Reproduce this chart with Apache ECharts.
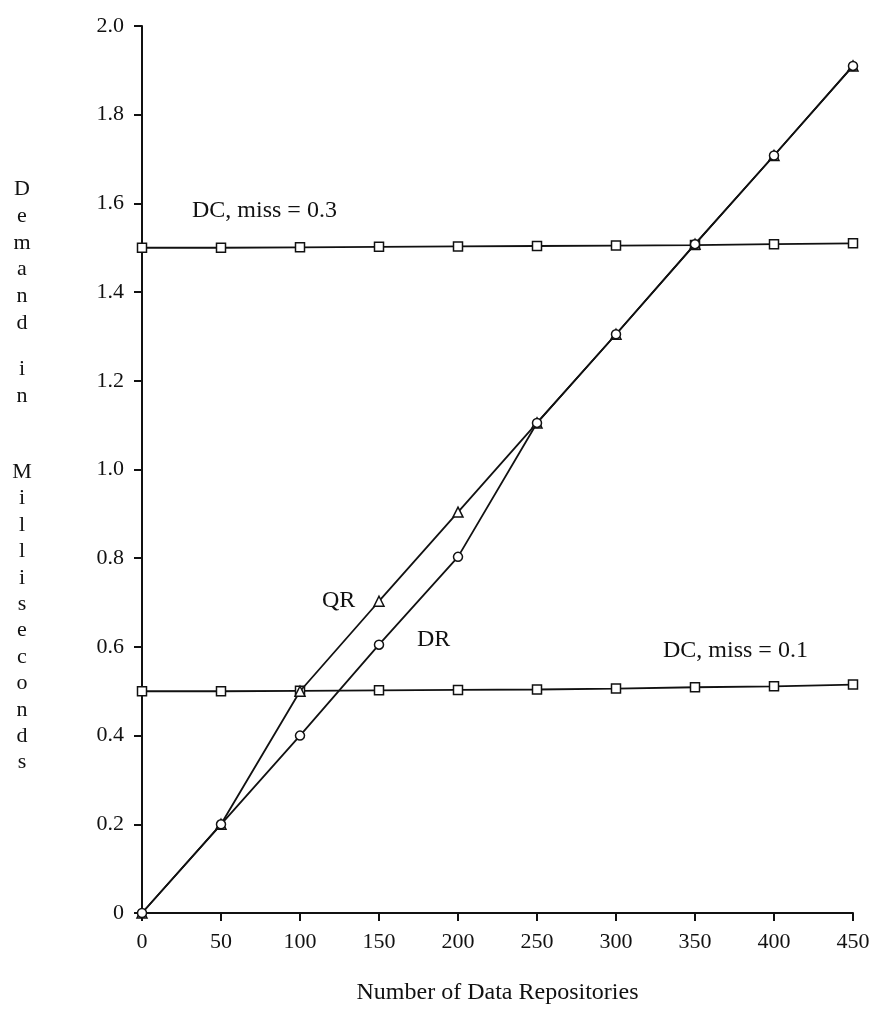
<!DOCTYPE html>
<html>
<head>
<meta charset="utf-8">
<script src="https://cdn.jsdelivr.net/npm/echarts@6/dist/echarts.min.js"></script>
<style>
html,body{margin:0;padding:0;background:#fff;}
#c{width:876px;height:1010px;}
</style>
</head>
<body>
<div id="c"></div>
<script>
const xValues = [0, 50, 100, 150, 200, 250, 300, 350, 400, 450];
const dcMiss03 = [1.500, 1.500, 1.501, 1.502, 1.503, 1.504, 1.505, 1.506, 1.508, 1.510];
const dcMiss01 = [0.500, 0.500, 0.501, 0.502, 0.503, 0.504, 0.506, 0.509, 0.511, 0.515];
const qrValues = [0, 0.2, 0.5, 0.703, 0.904, 1.105, 1.305, 1.508, 1.708, 1.91];
const drValues = [0, 0.2, 0.4, 0.605, 0.803, 1.105, 1.305, 1.508, 1.708, 1.91];
const yTickLabels = ['0', '0.2', '0.4', '0.6', '0.8', '1.0', '1.2', '1.4', '1.6', '1.8', '2.0'];

const FONT = '"Liberation Serif", "DejaVu Serif", serif';
const INK = '#111';

function pairs(vals) { return xValues.map((x, i) => [x, vals[i]]); }

function series(name, vals, symbol, z) {
  return {
    name: name, type: 'line', data: pairs(vals),
    symbol: symbol, symbolSize: symbol === 'triangle' ? 10 : 9,
    showAllSymbol: true, z: z,
    lineStyle: { color: INK, width: 1.8 },
    itemStyle: { color: '#fff', borderColor: INK, borderWidth: 1.5 },
    emphasis: { disabled: true }, animation: false
  };
}

const chart = echarts.init(document.getElementById('c'));
chart.setOption({
  backgroundColor: '#fff',
  animation: false,
  grid: { left: 142, right: 23, top: 26, bottom: 96, containLabel: false },
  xAxis: {
    type: 'value', min: 0, max: 450, interval: 50,
    name: 'Number of Data Repositories', nameLocation: 'middle', nameGap: 68,
    nameTextStyle: { fontFamily: FONT, fontSize: 24, color: INK },
    axisLine: { show: true, lineStyle: { color: INK, width: 2 } },
    axisTick: { show: true, length: 8, lineStyle: { color: INK, width: 2 } },
    axisLabel: { margin: 18, fontFamily: FONT, fontSize: 22, color: INK },
    splitLine: { show: false }
  },
  yAxis: {
    type: 'value', min: 0, max: 2.0, interval: 0.2,
    axisLine: { show: true, lineStyle: { color: INK, width: 2 } },
    axisTick: { show: true, length: 8, lineStyle: { color: INK, width: 2 } },
    axisLabel: {
      margin: 18, fontFamily: FONT, fontSize: 22, color: INK,
      formatter: function (v) { return yTickLabels[Math.round(v / 0.2)]; }
    },
    splitLine: { show: false }
  },
  series: [
    series('DC, miss = 0.3', dcMiss03, 'rect', 2),
    series('DC, miss = 0.1', dcMiss01, 'rect', 2),
    series('QR', qrValues, 'triangle', 3),
    series('DR', drValues, 'circle', 4)
  ],
  graphic: [
    { type: 'text', left: 192, top: 199, style: { text: 'DC, miss = 0.3', font: '24px ' + FONT, fill: INK } },
    { type: 'text', left: 663, top: 639, style: { text: 'DC, miss = 0.1', font: '24px ' + FONT, fill: INK } },
    { type: 'text', left: 322, top: 589, style: { text: 'QR', font: '24px ' + FONT, fill: INK } },
    { type: 'text', left: 417, top: 628, style: { text: 'DR', font: '24px ' + FONT, fill: INK } },
    { type: 'text', x: 22, y: 176, style: { text: 'D\ne\nm\na\nn\nd', font: '22px ' + FONT, fill: INK, align: 'center', lineHeight: 26.7 } },
    { type: 'text', x: 22, y: 356, style: { text: 'i\nn', font: '22px ' + FONT, fill: INK, align: 'center', lineHeight: 26.7 } },
    { type: 'text', x: 22, y: 459, style: { text: 'M\ni\nl\nl\ni\ns\ne\nc\no\nn\nd\ns', font: '22px ' + FONT, fill: INK, align: 'center', lineHeight: 26.4 } }
  ]
});
</script>
</body>
</html>
